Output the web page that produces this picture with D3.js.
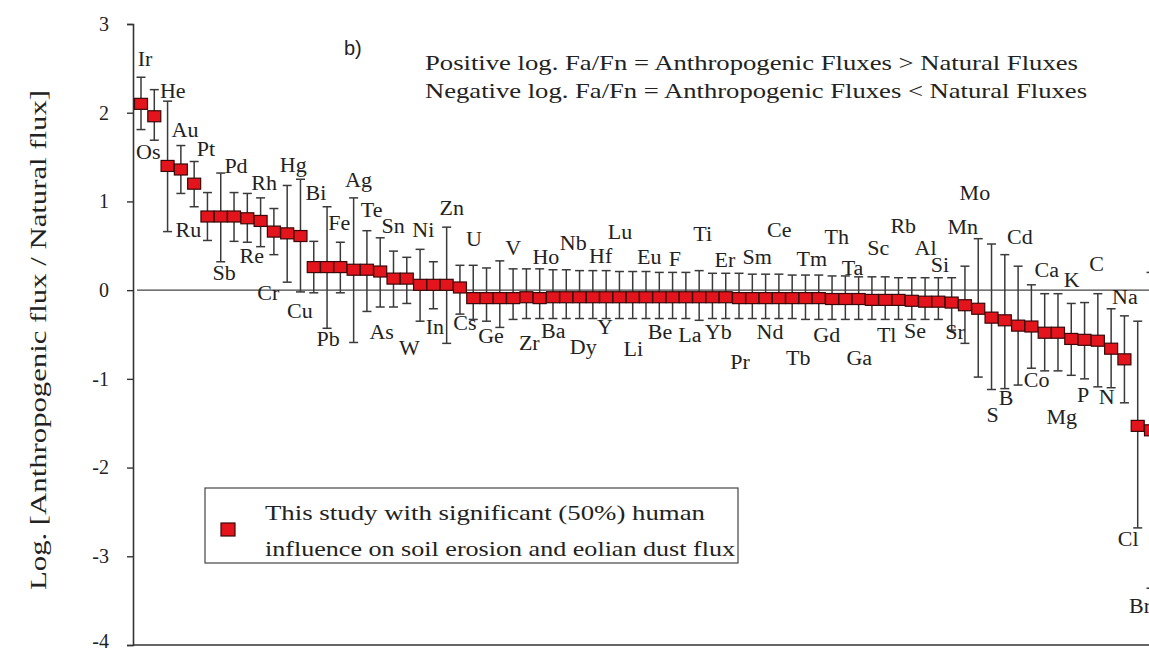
<!DOCTYPE html>
<html>
<head>
<meta charset="utf-8">
<script src="https://cdn.jsdelivr.net/npm/d3@7"></script>
<style>
  html, body { margin: 0; padding: 0; background: #fff; }
  svg { display: block; }
  text { font-family: "Liberation Serif", "Times New Roman", Times, serif; fill: #222; }
</style>
</head>
<body>
<svg id="chart" width="1149" height="652"></svg>
<script>
// ---- Data ----
// Log(Fa/Fn) value for each plotted element, sorted as in the figure (77 points)
const values = [2.10, 1.96, 1.40, 1.36, 1.20, 0.83, 0.83, 0.83, 0.81, 0.78, 0.66, 0.64, 0.61,
  0.26, 0.26, 0.26, 0.23, 0.23, 0.21, 0.13, 0.13, 0.06, 0.06, 0.06, 0.03,
  -0.09, -0.09, -0.09, -0.09, -0.08, -0.09, -0.08, -0.08, -0.08, -0.08,
  -0.08, -0.08, -0.08, -0.08, -0.08, -0.08, -0.08, -0.08, -0.08, -0.08,
  -0.09, -0.09, -0.09, -0.09, -0.09, -0.09, -0.09, -0.10, -0.10, -0.10,
  -0.11, -0.11, -0.11, -0.12, -0.13, -0.13, -0.14, -0.17, -0.21, -0.31,
  -0.34, -0.40, -0.41, -0.48, -0.48, -0.55, -0.56, -0.57, -0.66, -0.78,
  -1.53, -1.58];
// upper end of each error bar
const errHigh = [2.40, 2.26, 2.13, 1.63, 1.45, 1.10, 1.32, 1.10, 1.09, 1.04, 0.92, 1.18, 1.25,
  0.55, 0.94, 0.54, 1.04, 0.67, 0.59, 0.44, 0.37, 0.46, 0.32, 0.71, 0.28,
  0.28, 0.25, 0.33, 0.24, 0.24, 0.24, 0.23, 0.23, 0.22, 0.22,
  0.22, 0.21, 0.21, 0.21, 0.20, 0.20, 0.20, 0.22, 0.19, 0.19,
  0.19, 0.18, 0.18, 0.18, 0.17, 0.17, 0.17, 0.16, 0.16, 0.15,
  0.15, 0.15, 0.14, 0.14, 0.14, 0.14, 0.14, 0.27, 0.58, 0.52,
  0.40, 0.27, 0.06, -0.04, -0.04, -0.15, -0.14, -0.04, -0.21, -0.29,
  -0.35, 0.20];
// lower end of each error bar
const errLow = [1.81, 1.69, 0.66, 1.09, 0.94, 0.56, 0.32, 0.55, 0.54, 0.49, 0.40, 0.09, -0.02,
  -0.03, -0.43, -0.03, -0.59, -0.24, -0.19, -0.19, -0.15, -0.35, -0.21, -0.60, -0.27,
  -0.33, -0.35, -0.42, -0.33, -0.32, -0.32, -0.32, -0.32, -0.32, -0.32,
  -0.32, -0.32, -0.32, -0.32, -0.32, -0.32, -0.32, -0.34, -0.32, -0.32,
  -0.32, -0.32, -0.32, -0.32, -0.32, -0.33, -0.33, -0.33, -0.33, -0.33,
  -0.33, -0.33, -0.33, -0.33, -0.33, -0.33, -0.45, -0.60, -0.98, -1.12,
  -1.11, -1.07, -0.88, -0.91, -0.91, -0.96, -1.00, -1.09, -1.10, -1.27,
  -2.68, -3.36];

// Element labels as annotated in the figure (name, position along the point index, value position)
const labelNames = ["Ir","He","Os","Au","Pt","Ru","Pd","Sb","Rh","Re","Hg","Cr","Bi","Cu","Fe","Pb",
  "Ag","Te","As","Sn","W","Ni","In","Zn","Cs","U","Ge","V","Zr","Ho","Ba","Nb","Dy","Hf","Y","Lu",
  "Li","Eu","Be","F","La","Ti","Yb","Er","Pr","Sm","Nd","Ce","Tb","Tm","Gd","Th","Ta","Ga","Sc",
  "Tl","Rb","Se","Al","Si","Sr","Mn","Mo","S","B","Cd","Co","Ca","Mg","K","P","C","N","Na","Cl","Br"];
const labelAt = [0.30,2.39,0.55,3.31,4.89,3.56,7.15,6.25,9.26,8.33,11.46,9.58,13.17,11.96,14.92,14.09,
  16.37,17.36,18.11,18.98,20.19,21.24,22.12,23.38,24.38,25.06,26.34,28.01,29.22,30.47,31.02,32.53,33.28,34.59,34.91,36.04,
  37.04,38.25,39.05,40.18,41.31,42.26,43.44,43.94,45.07,46.37,47.33,48.03,49.46,50.47,51.60,52.35,53.54,54.05,55.48,
  56.11,57.36,58.24,59.04,60.12,61.25,61.83,62.75,64.09,65.09,66.14,67.40,68.15,69.28,70.03,70.90,71.91,72.66,74.04,74.29,75.17];
const labelVal = [2.61,2.25,1.56,1.81,1.59,0.68,1.40,0.19,1.21,0.38,1.41,-0.03,1.09,-0.23,0.76,-0.55,
  1.24,0.90,-0.47,0.72,-0.65,0.68,-0.42,0.93,-0.37,0.58,-0.52,0.48,-0.60,0.37,-0.46,0.53,-0.64,0.38,-0.42,0.66,
  -0.66,0.37,-0.47,0.35,-0.50,0.63,-0.47,0.34,-0.81,0.37,-0.47,0.68,-0.76,0.35,-0.50,0.60,0.25,-0.77,0.48,
  -0.50,0.72,-0.46,0.48,0.28,-0.47,0.71,1.09,-1.41,-1.22,0.60,-1.01,0.23,-1.43,0.11,-1.18,0.29,-1.21,-0.08,-2.81,-3.56];

const yTicks = [-4, -3, -2, -1, 0, 1, 2, 3];
const yTitle = "Log. [Anthropogenic flux / Natural flux]";
const panelTag = "b)";
const noteLines = ["Positive log. Fa/Fn = Anthropogenic Fluxes > Natural Fluxes",
                   "Negative log. Fa/Fn = Anthropogenic Fluxes < Natural Fluxes"];
const legendLines = ["This study with significant (50%) human",
                     "influence on soil erosion and eolian dust flux"];

// ---- Drawing ----
const serif = "'Liberation Serif', 'Times New Roman', Times, serif";
const svg = d3.select("#chart");
const x = d3.scaleLinear().domain([0, 76]).range([141, 1151]);
const y = d3.scaleLinear().domain([-4, 3]).range([645, 24]);
const ink = "#333";

// y axis
const yAxis = d3.axisLeft(y).tickValues(yTicks).tickSize(6).tickPadding(18)
  .tickFormat(d => String(d));
const gy = svg.append("g").attr("transform", `translate(133,0)`).call(yAxis)
  .attr("font-family", serif);
gy.select(".domain").attr("stroke", ink).attr("stroke-width", 1.6);
gy.selectAll(".tick line").attr("stroke", ink).attr("stroke-width", 1.4);
gy.selectAll(".tick text").attr("font-size", 20).attr("fill", "#222")
  .style("font-family", serif)
  .attr("dy", d => d === -4 ? "0.1em" : "0.32em");

// bottom axis line (at -4) and zero line
svg.append("line").attr("x1", 133).attr("x2", 1149).attr("y1", y(-4)).attr("y2", y(-4))
  .attr("stroke", ink).attr("stroke-width", 1.6);
svg.append("line").attr("x1", 137).attr("x2", 1149).attr("y1", y(0)).attr("y2", y(0))
  .attr("stroke", "#444").attr("stroke-width", 1.1);

// y axis title
svg.append("text")
  .attr("transform", `translate(38,340) rotate(-90)`)
  .attr("text-anchor", "middle").attr("dominant-baseline", "central")
  .attr("font-size", 23).attr("fill", "#222")
  .attr("textLength", 500).attr("lengthAdjust", "spacingAndGlyphs")
  .text(yTitle);

// points data
const pts = values.map((v, i) => ({ i, v, hi: errHigh[i], lo: errLow[i] }));

// error bars
const eb = svg.append("g").attr("stroke", "#3a3a3a").attr("stroke-width", 1.5);
eb.selectAll("line.v").data(pts).join("line").attr("class", "v")
  .attr("x1", d => x(d.i)).attr("x2", d => x(d.i))
  .attr("y1", d => y(d.hi)).attr("y2", d => y(d.lo));
eb.selectAll("line.ct").data(pts).join("line").attr("class", "ct")
  .attr("x1", d => x(d.i) - 4.5).attr("x2", d => x(d.i) + 4.5)
  .attr("y1", d => y(d.hi)).attr("y2", d => y(d.hi));
eb.selectAll("line.cb").data(pts).join("line").attr("class", "cb")
  .attr("x1", d => x(d.i) - 4.5).attr("x2", d => x(d.i) + 4.5)
  .attr("y1", d => y(d.lo)).attr("y2", d => y(d.lo));

// squares
const sw = 13, sh = 11;
svg.append("g").selectAll("rect").data(pts).join("rect")
  .attr("x", d => x(d.i) - sw / 2).attr("y", d => y(d.v) - sh / 2)
  .attr("width", sw).attr("height", sh)
  .attr("fill", "#e3141c").attr("stroke", "#3a0808").attr("stroke-width", 1.2);

// element labels
const labs = labelNames.map((n, k) => ({ n, xi: labelAt[k], v: labelVal[k] }));
svg.append("g").selectAll("text").data(labs).join("text")
  .attr("x", d => x(d.xi)).attr("y", d => y(d.v))
  .attr("text-anchor", "middle").attr("dominant-baseline", "central")
  .attr("font-size", 20).attr("fill", "#222")
  .text(d => d.n)
  .each(function () {
    const L = this.getComputedTextLength();
    d3.select(this).attr("textLength", L * 1.1).attr("lengthAdjust", "spacingAndGlyphs");
  });

// panel tag
svg.append("text").attr("x", 344).attr("y", 48).attr("dominant-baseline", "central")
  .attr("font-size", 20).style("font-family", "'Liberation Sans', Arial, sans-serif")
  .attr("fill", "#222").text(panelTag);

// note lines
svg.append("g").selectAll("text").data(noteLines).join("text")
  .attr("x", 425).attr("y", (d, k) => 62 + k * 28).attr("dominant-baseline", "central")
  .attr("font-size", 22).attr("fill", "#222")
  .attr("textLength", (d, k) => k === 0 ? 653 : 662).attr("lengthAdjust", "spacingAndGlyphs")
  .text(d => d);

// legend
const lg = svg.append("g");
lg.append("rect").attr("x", 205).attr("y", 488).attr("width", 533).attr("height", 75)
  .attr("fill", "#fff").attr("stroke", "#444").attr("stroke-width", 1.2);
lg.append("rect").attr("x", 221).attr("y", 523).attr("width", 14).attr("height", 13)
  .attr("fill", "#e3141c").attr("stroke", "#3a0808").attr("stroke-width", 1.2);
lg.selectAll("text").data(legendLines).join("text")
  .attr("x", 265).attr("y", (d, k) => 512 + k * 36).attr("dominant-baseline", "central")
  .attr("font-size", 22).attr("fill", "#222")
  .attr("textLength", (d, k) => k === 0 ? 440 : 470).attr("lengthAdjust", "spacingAndGlyphs")
  .text(d => d);
</script>
</body>
</html>
